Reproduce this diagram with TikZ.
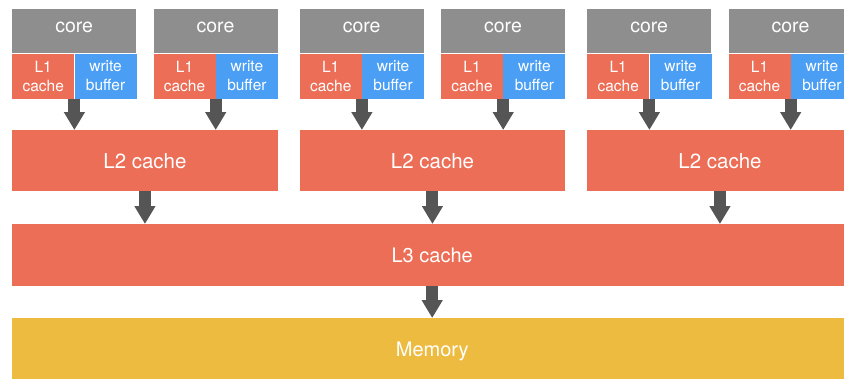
\documentclass[tikz,border=0pt]{standalone}
\usepackage{fontspec}
\setmainfont{TeX Gyre Heros}
\usetikzlibrary{arrows.meta}
\definecolor{coregray}{HTML}{8E8E8E}
\definecolor{cachered}{HTML}{EC6E57}
\definecolor{bufblue}{HTML}{4A9FF5}
\definecolor{memyellow}{HTML}{EDBB3F}
\definecolor{arrowgray}{HTML}{555555}
\tikzset{
  blk/.style={rectangle, inner sep=0pt, anchor=north west, text=white, align=center},
  corebox/.style={blk, fill=coregray, minimum width=124pt, minimum height=44pt, font=\fontsize{19.5}{22}\selectfont},
  lonebox/.style={blk, fill=cachered, minimum width=62pt, minimum height=45pt, font=\fontsize{15.5}{19}\selectfont},
  wbbox/.style={blk, fill=bufblue, minimum width=62pt, minimum height=45pt, font=\fontsize{15.5}{19}\selectfont},
  ltwobox/.style={blk, fill=cachered, minimum width=265.5pt, minimum height=61pt, font=\fontsize{20.5}{24}\selectfont},
  bigbox/.style={blk, fill=#1, minimum width=840pt, minimum height=62pt, font=\fontsize{20}{24}\selectfont},
  flowarrow/.style={draw=arrowgray, line width=12pt, -{Triangle[width=20pt,length=18pt]}, arrowgray}
}
\begin{document}
\begin{tikzpicture}[x=1pt, y=-1pt]
\useasboundingbox (0,0) rectangle (844,378);
\clip (0,0) rectangle (844,378);
% three clusters, each with two cores sharing an L2 cache
\foreach \g/\gx in {0/12, 1/299.5, 2/587} {
  \foreach \c/\cx in {a/0, b/141.3} {
    \node[corebox] (core\g\c) at (\gx+\cx, 9) {\raisebox{7pt}{core}};
    \node[lonebox] (lone\g\c) at (core\g\c.south west) {L1\\cache};
    \node[wbbox]   (wb\g\c)   at (lone\g\c.north east) {write\\buffer};
  }
  \node[ltwobox] (ltwo\g) at (\gx, 130) {L2 cache};
  \draw[flowarrow] (lone\g a.south east) -- (lone\g a.south east |- ltwo\g.north);
  \draw[flowarrow] (lone\g b.south east) -- (lone\g b.south east |- ltwo\g.north);
}
\node[bigbox=cachered] (lthree) at (12, 224) {L3 cache};
\node[bigbox=memyellow, minimum height=66pt] (mem) at (12, 318) {Memory};
\foreach \g in {0,1,2}
  \draw[flowarrow] (ltwo\g.south) -- (ltwo\g.south |- lthree.north);
\draw[flowarrow] (lthree.south) -- (mem.north);
\end{tikzpicture}
\end{document}
